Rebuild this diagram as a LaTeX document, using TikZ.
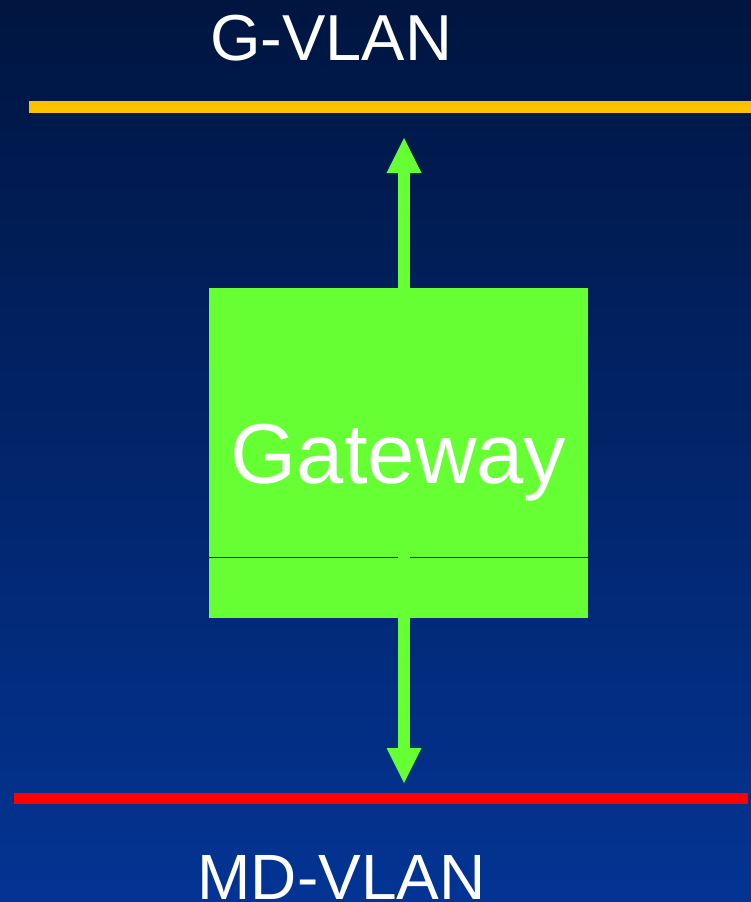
\documentclass[tikz,border=0pt]{standalone}
\usepackage{fontspec}
\setmainfont{Liberation Sans}
\usepackage{tikz}
\usetikzlibrary{positioning, arrows.meta, calc}
\definecolor{cBgTop}{HTML}{001540}
\definecolor{cBgBot}{HTML}{033494}
\definecolor{cGate}{HTML}{66FF33}
\definecolor{cGVlan}{HTML}{FFC000}
\definecolor{cMdVlan}{HTML}{FF0000}
\definecolor{cSplit}{HTML}{0A2A4A}
\tikzset{
  gatebox/.style={
    rectangle, fill=cGate, minimum width=379pt, minimum height=330pt,
    inner sep=0pt, text=white, font=\fontsize{85}{100}\selectfont,
    text height=61pt, text depth=0pt
  },
  vlanlabel/.style={
    anchor=base, inner sep=0pt, text=white, text depth=0pt,
    font=\fontsize{65}{78}\selectfont
  },
  bus/.style={line width=#1},
  linkarrow/.style={
    {Triangle[width=35pt, length=35pt, line width=0pt]}-, color=cGate,
    line width=12pt
  },
  linkarrowdown/.style={
    -{Triangle[width=35pt, length=35pt, line width=0pt]}, color=cGate,
    line width=12pt
  },
}
\begin{document}
\begin{tikzpicture}[x=1pt, y=-1pt]

  \useasboundingbox (0,0) rectangle (751,902);
  \shade[top color=cBgTop, bottom color=cBgBot] (0,0) rectangle (751,902);

  % VLAN buses
  \coordinate (gL) at (29,107);
  \coordinate (gR) at (751,107);
  \coordinate (mL) at (14,798);
  \coordinate (mR) at (748,798);
  \draw[bus=12pt, cGVlan]  (gL) -- (gR);
  \draw[bus=11pt, cMdVlan] (mL) -- (mR);

  \node[vlanlabel] (gvlan)  at (331,60)  {G-VLAN};
  \node[vlanlabel, font=\fontsize{64}{77}\selectfont] (mdvlan) at (341.5,899) {MD-VLAN};

  % gateway
  \node[gatebox] (gw) at (398.5,453) {Gateway};
  \coordinate (sL) at (gw.west |- 0,557);
  \coordinate (sR) at (gw.east |- 0,557);
  \draw[cSplit, line width=1pt] (sL) -- (sR);

  \coordinate (upEnd)   at (404,138);
  \coordinate (downEnd) at (404,783);
  \draw[linkarrow]     (upEnd) -- (upEnd |- gw.north);
  \draw[linkarrowdown] (downEnd |- sL) -- (downEnd);

\end{tikzpicture}
\end{document}
